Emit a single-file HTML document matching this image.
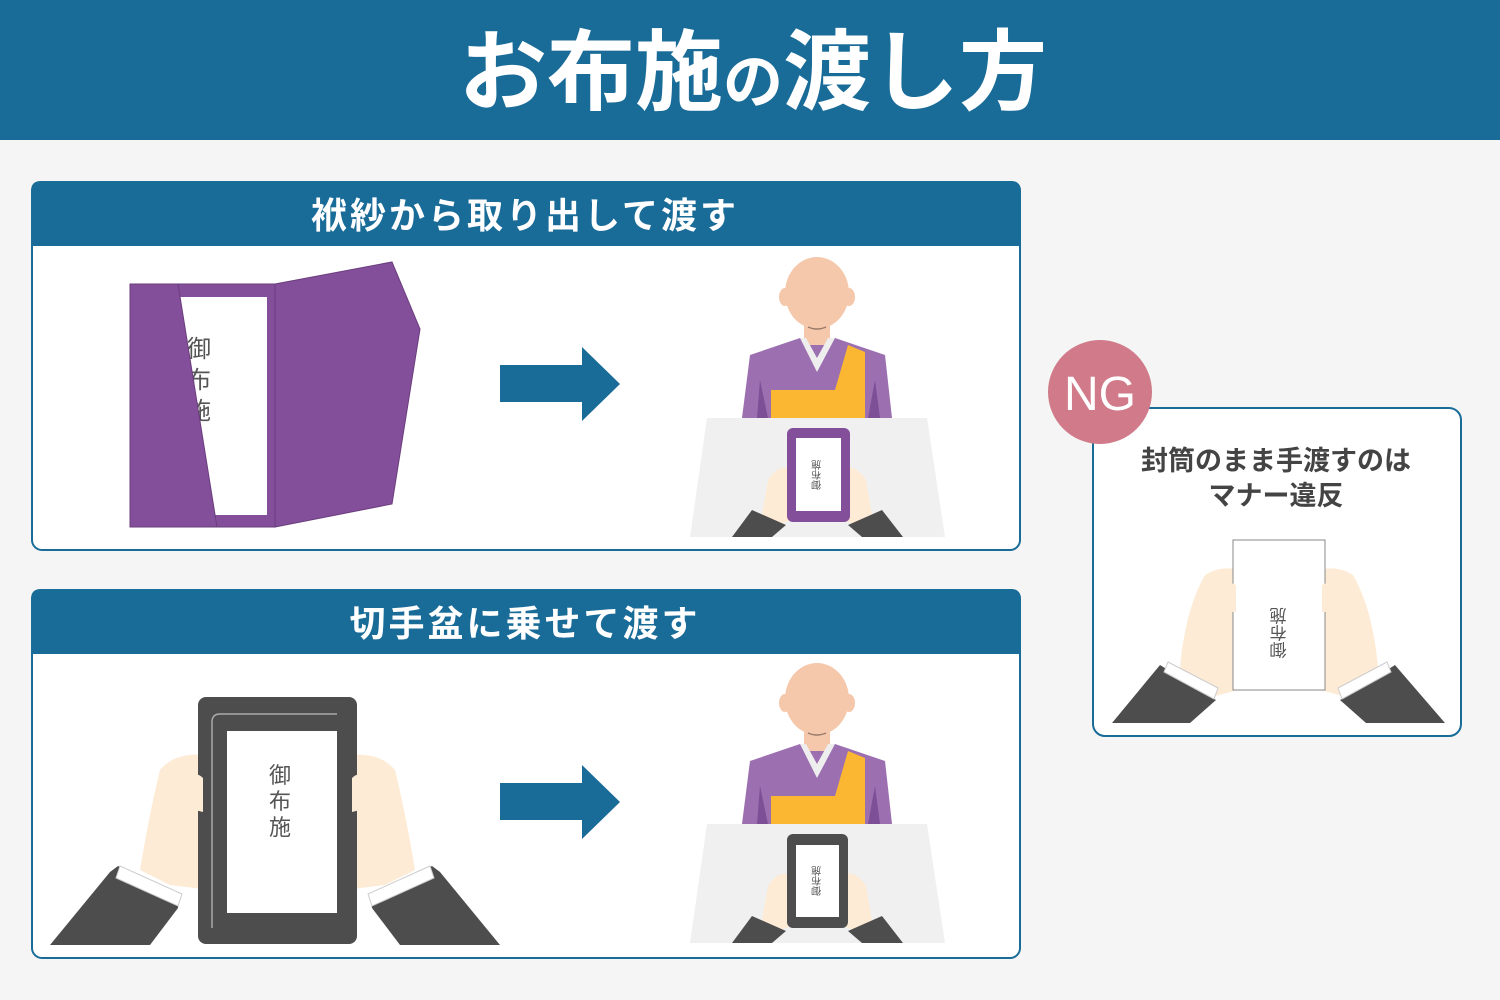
<!DOCTYPE html>
<html><head><meta charset="utf-8"><style>
html,body{margin:0;padding:0;background:#f5f5f5;}
svg{display:block;}
text{font-family:"Liberation Sans","Noto Sans CJK JP",sans-serif;}
</style></head><body>
<svg width="1500" height="1000" viewBox="0 0 1500 1000" xmlns="http://www.w3.org/2000/svg">
<defs>
<g id="monk">
  <path d="M750,355 L800,338 L835,338 L885,355 L892,418 L742,418 Z" fill="#9b6fb0"/>
  <path d="M760,380 L768,418 L757,418 Z" fill="#7d4f96"/>
  <path d="M875,380 L868,418 L880,418 Z" fill="#7d4f96"/>
  <rect x="804" y="315" width="26" height="30" fill="#f5c8ac"/>
  <path d="M806,338 L817,358 L828,338 L835,338 L817,372 L800,338 Z" fill="#eee"/>
  <path d="M771,390 L835,390 L848,345 L865,352 L865,418 L771,418 Z" fill="#fbb731"/>
  <ellipse cx="785" cy="297" rx="6" ry="9" fill="#f5c8ac"/>
  <ellipse cx="849" cy="297" rx="6" ry="9" fill="#f5c8ac"/>
  <ellipse cx="817" cy="293" rx="32" ry="36" fill="#f5c8ac"/>
  <path d="M808,327 Q817,331 826,327" stroke="#9a7a68" stroke-width="1.5" fill="none"/>
  <path d="M707,418 L927,418 L945,537 L690,537 Z" fill="#f0f0f0"/>
  <path d="M768,480 Q780,462 792,470 L792,520 L778,525 L762,515 Z" fill="#fdebd6"/>
  <path d="M866,480 Q854,462 842,470 L842,520 L856,525 L872,515 Z" fill="#fdebd6"/>
  <path d="M732,537 L752,510 L786,525 L772,537 Z" fill="#4d4d4d"/>
  <path d="M903,537 L882,510 L848,525 L862,537 Z" fill="#4d4d4d"/>
</g>
</defs>

<rect width="1500" height="1000" fill="#f5f5f5"/>
<rect x="0" y="0" width="1500" height="140" fill="#196b98"/>
<text x="753" y="103" text-anchor="middle" fill="#fff" font-weight="bold" font-size="88">お布施<tspan font-size="60">の</tspan>渡し方</text>

<rect x="32" y="182" width="988" height="368" rx="10" fill="#fff" stroke="#196b98" stroke-width="2"/>
<path d="M31,246 L31,191 Q31,181 41,181 L1011,181 Q1021,181 1021,191 L1021,246 Z" fill="#196b98"/>
<text x="525" y="228" text-anchor="middle" fill="#fff" font-weight="bold" font-size="36" letter-spacing="3">袱紗から取り出して渡す</text>

<rect x="130" y="284" width="145" height="243" fill="#844f9a" stroke="#6a3d7e" stroke-width="1"/>
<rect x="180" y="297" width="87" height="218" fill="#fff"/>
<text x="199" y="357" text-anchor="middle" fill="#555" font-size="24">御</text>
<text x="199" y="388" text-anchor="middle" fill="#555" font-size="24">布</text>
<text x="199" y="419" text-anchor="middle" fill="#555" font-size="24">施</text>
<path d="M130,284 L178,284 L217,527 L130,527 Z" fill="#844f9a" stroke="#6a3d7e" stroke-width="1"/>
<path d="M275,284 L392,262 L420,329 L392,504 L275,527 Z" fill="#844f9a" stroke="#6a3d7e" stroke-width="1"/>

<path d="M500,365 L582,365 L582,347 L620,384 L582,421 L582,402 L500,402 Z" fill="#196b98"/>

<use href="#monk"/>
<rect x="787" y="428" width="63" height="94" rx="6" fill="#844f9a"/>
<rect x="796" y="438" width="45" height="73" fill="#fff"/>
<text transform="translate(818,475) rotate(180)" text-anchor="middle" fill="#555" font-size="10" dominant-baseline="middle" writing-mode="tb">御布施</text>

<rect x="32" y="590" width="988" height="368" rx="10" fill="#fff" stroke="#196b98" stroke-width="2"/>
<path d="M31,654 L31,599 Q31,589 41,589 L1011,589 Q1021,589 1021,599 L1021,654 Z" fill="#196b98"/>
<text x="525" y="636" text-anchor="middle" fill="#fff" font-weight="bold" font-size="36" letter-spacing="3">切手盆に乗せて渡す</text>

<path d="M140,870 Q150,810 160,770 Q175,752 205,755 L210,890 L170,885 Z" fill="#fdebd6"/>
<path d="M415,870 Q405,810 395,770 Q380,752 350,755 L345,890 L385,885 Z" fill="#fdebd6"/>
<rect x="198" y="697" width="159" height="247" rx="8" fill="#4d4d4d"/>
<path d="M212,928 L212,722 Q212,714 220,714 L337,714" stroke="#aaa" stroke-width="1.5" fill="none"/>
<rect x="227" y="731" width="110" height="182" fill="#fff"/>
<text x="280" y="783" text-anchor="middle" fill="#555" font-size="22">御</text>
<text x="280" y="809" text-anchor="middle" fill="#555" font-size="22">布</text>
<text x="280" y="835" text-anchor="middle" fill="#555" font-size="22">施</text>
<path d="M203,778 Q195,770 190,780 Q185,800 195,810 L203,812 Z" fill="#fdebd6"/>
<path d="M352,778 Q360,770 365,780 Q370,800 360,810 L352,812 Z" fill="#fdebd6"/>
<path d="M50,945 L110,872 L118,866 L180,894 L178,908 L150,945 Z" fill="#4d4d4d"/>
<path d="M120,866 L182,894 L178,906 L116,878 Z" fill="#fff" stroke="#ccc" stroke-width="1"/>
<path d="M500,945 L440,872 L432,866 L370,894 L372,908 L400,945 Z" fill="#4d4d4d"/>
<path d="M430,866 L368,894 L372,906 L434,878 Z" fill="#fff" stroke="#ccc" stroke-width="1"/>

<path d="M500,783 L582,783 L582,765 L620,802 L582,839 L582,820 L500,820 Z" fill="#196b98"/>

<g transform="translate(0,406)"><use href="#monk"/></g>
<rect x="787" y="834" width="61" height="94" rx="6" fill="#4d4d4d"/>
<rect x="796" y="845" width="43" height="72" fill="#fff"/>
<text transform="translate(818,881) rotate(180)" text-anchor="middle" fill="#555" font-size="10" dominant-baseline="middle" writing-mode="tb">御布施</text>

<rect x="1093" y="408" width="368" height="328" rx="12" fill="#fff" stroke="#196b98" stroke-width="2"/>
<circle cx="1100" cy="392" r="52" fill="#d07a8a"/>
<text x="1100" y="410" text-anchor="middle" fill="#fff" font-size="48">NG</text>
<text x="1276" y="470" text-anchor="middle" fill="#444" font-weight="bold" font-size="27">封筒のまま手渡すのは</text>
<text x="1276" y="505" text-anchor="middle" fill="#444" font-weight="bold" font-size="27">マナー違反</text>
<path d="M1180,668 Q1185,610 1205,575 Q1220,565 1240,570 L1238,690 L1200,700 Z" fill="#fdebd6"/>
<path d="M1378,668 Q1373,610 1353,575 Q1338,565 1318,570 L1320,690 L1358,700 Z" fill="#fdebd6"/>
<rect x="1233" y="540" width="92" height="150" fill="#fff" stroke="#888" stroke-width="1"/>
<text transform="translate(1281,633) rotate(180)" text-anchor="middle" fill="#555" font-size="17" dominant-baseline="middle" writing-mode="tb">御布施</text>
<path d="M1236,585 Q1228,580 1222,590 Q1220,605 1232,612 L1236,612 Z" fill="#fdebd6"/>
<path d="M1322,585 Q1330,580 1336,590 Q1338,605 1326,612 L1322,612 Z" fill="#fdebd6"/>
<path d="M1112,723 L1160,665 L1216,700 L1190,723 Z" fill="#4d4d4d"/>
<path d="M1168,662 L1218,688 L1214,699 L1164,672 Z" fill="#fff" stroke="#ccc" stroke-width="1"/>
<path d="M1445,723 L1395,665 L1340,700 L1366,723 Z" fill="#4d4d4d"/>
<path d="M1387,662 L1338,688 L1342,699 L1391,672 Z" fill="#fff" stroke="#ccc" stroke-width="1"/>
</svg>
</body></html>
